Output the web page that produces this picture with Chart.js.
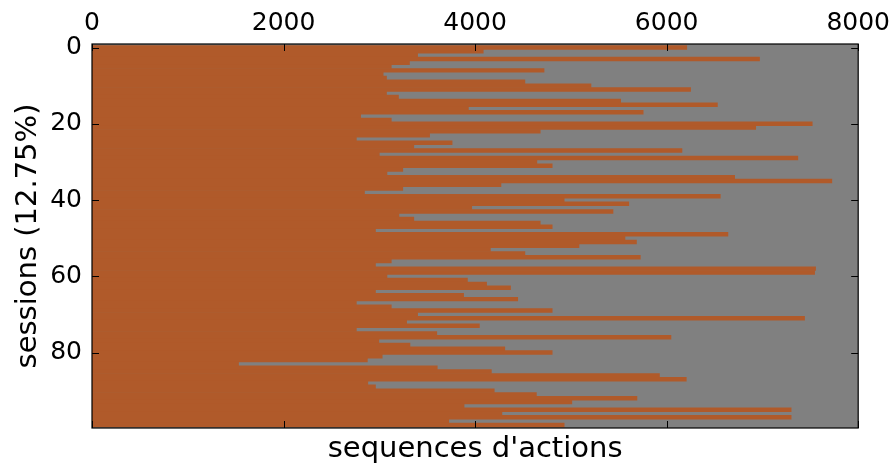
<!DOCTYPE html>
<html><head><meta charset="utf-8">
<script src="https://cdn.jsdelivr.net/npm/chart.js@4/dist/chart.umd.min.js"></script>
<style>html,body{margin:0;padding:0;background:#fff}#wrap{width:896px;height:470px}</style>
</head><body><div id="wrap"><canvas id="c" width="896" height="470"></canvas></div>
<script>
// Length (number of actions) of each session, session 0 at top
const sessionLengths = [
  6210, 4085, 3400, 6970, 3315, 3125, 4720, 3040, 3075, 4520,
  5210, 6250, 3075, 3200, 5520, 6530, 3930, 5755, 2805, 3125,
  7520, 6930, 4680, 3525, 2760, 3760, 3360, 6160, 3000, 7370,
  4645, 4805, 3245, 3080, 6710, 7725, 4270, 3245, 2845, 6560,
  4930, 5605, 3965, 5440, 3205, 3360, 4680, 4805, 2960, 6640,
  5565, 5685, 5085, 4160, 4520, 5725, 3125, 2960, 7555, 7545,
  3080, 3920, 4120, 4370, 2960, 3880, 4445, 2760, 3125, 4805,
  3400, 7440, 3285, 4045, 2760, 3600, 6045, 2995, 3320, 4310,
  4805, 3030, 2875, 1530, 3605, 4170, 5925, 6205, 2880, 2960,
  4200, 4640, 5690, 5010, 3885, 7300, 4280, 7300, 3725, 4930
];
const sessionIndex = sessionLengths.map((_, i) => i);
const xTickValues = [0, 2000, 4000, 6000, 8000];
const yTickValues = [0, 20, 40, 60, 80];
const xTitle = "sequences d'actions";
const yTitle = "sessions (12.75%)";
const barColor = '#b05a2a';
const bgColor = '#808080';
const FONT = "'DejaVu Sans', sans-serif";

const framePlugin = {
  id: 'frame',
  beforeDatasetsDraw(chart) {
    const {ctx, chartArea: a} = chart;
    ctx.save();
    ctx.fillStyle = bgColor;
    ctx.fillRect(a.left, a.top, a.right - a.left, a.bottom - a.top);
    ctx.restore();
  },
  afterDatasetsDraw(chart) {
    const {ctx, chartArea: a, scales} = chart;
    const tl = 7;
    ctx.save();
    ctx.strokeStyle = '#000';
    ctx.lineWidth = 1;
    ctx.beginPath();
    xTickValues.forEach(v => {
      const px = Math.round(scales.x.getPixelForValue(v)) + 0.5;
      ctx.moveTo(px, a.top); ctx.lineTo(px, a.top + tl);
      ctx.moveTo(px, a.bottom); ctx.lineTo(px, a.bottom - tl);
    });
    yTickValues.forEach(v => {
      const py = Math.round(scales.y.getPixelForValue(v)) + 0.5;
      ctx.moveTo(a.left, py); ctx.lineTo(a.left + tl, py);
      ctx.moveTo(a.right, py); ctx.lineTo(a.right - tl, py);
    });
    ctx.stroke();
    ctx.lineWidth = 1.2;
    ctx.strokeRect(a.left, a.top, a.right - a.left, a.bottom - a.top);
    ctx.restore();
  }
};

new Chart(document.getElementById('c'), {
  type: 'bar',
  data: {
    datasets: [{
      data: sessionLengths.map((v, i) => ({x: v, y: sessionIndex[i]})),
      backgroundColor: barColor,
      borderWidth: 0,
      barPercentage: 1,
      categoryPercentage: 1
    }]
  },
  options: {
    indexAxis: 'y',
    responsive: false,
    animation: false,
    devicePixelRatio: 1,
    layout: {padding: {left: 0, right: 36, top: 0, bottom: 0}},
    plugins: {legend: {display: false}, tooltip: {enabled: false}},
    scales: {
      x: {
        type: 'linear', position: 'top', min: 0, max: 8000, offset: false,
        afterBuildTicks: s => { s.ticks = xTickValues.map(v => ({value: v})); },
        afterFit: s => { s.height = 44; },
        grid: {display: false, drawTicks: false},
        border: {display: false},
        ticks: {color: '#000', font: {family: FONT, size: 25}, padding: 6, maxRotation: 0, autoSkip: false,
                callback: v => String(v)}
      },
      xb: {
        type: 'linear', position: 'bottom', min: 0, max: 8000,
        afterFit: s => { s.height = 42; },
        grid: {display: false, drawTicks: false},
        border: {display: false},
        ticks: {display: false},
        title: {display: true, text: xTitle, color: '#000', font: {family: FONT, size: 29}, padding: {top: 0, bottom: 3}}
      },
      y: {
        type: 'linear', position: 'left', min: -0.92, max: 99.8, reverse: true, offset: false,
        afterBuildTicks: s => { s.ticks = yTickValues.map(v => ({value: v})); },
        afterFit: s => { s.width = 92; },
        grid: {display: false, drawTicks: false, offset: false},
        border: {display: false},
        ticks: {color: '#000', font: {family: FONT, size: 25}, padding: 10, autoSkip: false,
                callback: v => String(v)},
        title: {display: true, text: yTitle, color: '#000', font: {family: FONT, size: 29}, padding: {top: 11, bottom: 0}}
      }
    }
  },
  plugins: [framePlugin]
});
</script>
</body></html>
